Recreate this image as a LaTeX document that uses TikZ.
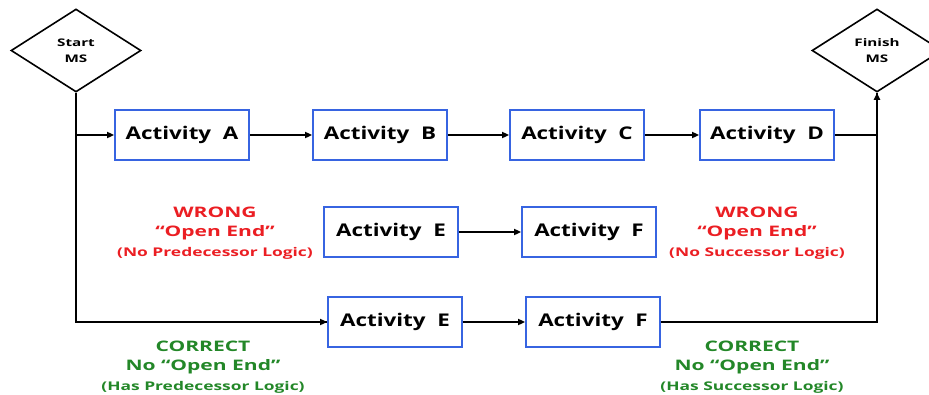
\documentclass[tikz,border=0pt]{standalone}
\usepackage{fontspec}
\setmainfont{Open Sans}[BoldFont={* Bold}, FakeStretch=1.45]
\newfontfamily\actfont{Open Sans}[BoldFont={* Bold}, FakeStretch=1.28]
\usetikzlibrary{shapes.geometric,arrows.meta}
\definecolor{boxblue}{RGB}{55,100,225}
\definecolor{wrongred}{RGB}{235,30,35}
\definecolor{okgreen}{RGB}{35,135,40}
\tikzset{
  actbox/.style={draw=boxblue, line width=1.8pt, fill=white, minimum width=134pt, minimum height=50pt, inner sep=0pt, font=\actfont\bfseries\fontsize{17.5}{20}\selectfont},
  msnode/.style={draw=black, line width=1.6pt, shape=diamond, shape aspect=1.55, minimum width=130pt, minimum height=83pt, inner sep=0pt, align=center, font=\bfseries\fontsize{10.5}{15.5}\selectfont},
  conn/.style={line width=1.8pt, -{Triangle[length=7pt,width=6pt]}},
  plain/.style={line width=1.8pt},
  mainline/.style={line width=2.6pt},
  note/.style={align=center, font=\bfseries\fontsize{14.5}{19.5}\selectfont},
}
\newcommand{\smallline}[1]{{\fontsize{12}{17}\selectfont #1}}
\begin{document}
\begin{tikzpicture}[x=1pt,y=-1pt]
\useasboundingbox (0,0) rectangle (929,394);
\begin{scope}
\clip (0,0) rectangle (929,394);
\node[msnode] (start) at (76,50.5) {Start\\MS};
\node[msnode] (finish) at (877,50.5) {Finish\\MS};
\end{scope}
\node[actbox] (A) at (182,135) {Activity\ \ A};
\node[actbox] (B) at (380,135) {Activity\ \ B};
\node[actbox] (C) at (577,135) {Activity\ \ C};
\node[actbox] (D) at (767,135) {Activity\ \ D};
\node[actbox] (E2) at (391,232) {Activity\ \ E};
\node[actbox] (F2) at (589,232) {Activity\ \ F};
\node[actbox] (E3) at (395,322) {Activity\ \ E};
\node[actbox] (F3) at (593,322) {Activity\ \ F};
\coordinate (jA) at (start.south |- A.west);
\coordinate (jD) at (finish.south |- D.east);
\draw[mainline] (start.south) |- (E3.west);
\draw[conn] (start.south |- E3.west) -- (E3.west);
\draw[conn] (jA) -- (A.west);
\draw[conn] (A) -- (B);
\draw[conn] (B) -- (C);
\draw[conn] (C) -- (D);
\draw[plain] (D.east) -- (jD);
\draw[conn] (E2) -- (F2);
\draw[conn] (E3) -- (F3);
\draw[mainline] (F3.east) -| (finish.south);
\draw[line width=1.8pt, -{Triangle[length=7pt,width=6pt]}] (jD) -- (finish.south);
\node[note, text=wrongred] (w1) at (215,233) {WRONG\\“Open End”\\\smallline{(No Predecessor Logic)}};
\node[note, text=wrongred] (w2) at (757,233) {WRONG\\“Open End”\\\smallline{(No Successor Logic)}};
\node[note, text=okgreen] (c1) at (203,367) {CORRECT\\No “Open End”\\\smallline{(Has Predecessor Logic)}};
\node[note, text=okgreen] (c2) at (752,367) {CORRECT\\No “Open End”\\\smallline{(Has Successor Logic)}};
\end{tikzpicture}
\end{document}
